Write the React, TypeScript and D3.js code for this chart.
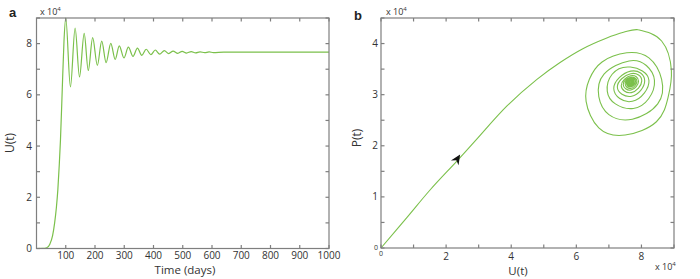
import React, { useEffect, useRef } from "react";
import * as d3 from "d3";

// panel a: U(t) time series (values in units of 1e4)
const tsTime = [0, 20, 35, 46, 55, 62, 68, 73, 78, 82, 88, 94, 100, 116, 132, 147, 163, 177, 192, 208, 223, 238, 254, 269, 283, 299, 314, 330, 345, 360, 375, 391, 406, 421, 437, 452, 467, 483, 498, 513, 529, 544, 559, 575, 590, 605, 640, 1000];
const tsU = [0, 0.005, 0.03, 0.18, 0.5, 1.0, 1.6, 2.3, 3.3, 4.25, 6.2, 8.1, 9.0, 6.31, 8.61, 6.7, 8.4, 6.95, 8.23, 7.15, 8.1, 7.26, 8.01, 7.38, 7.91, 7.44, 7.86, 7.5, 7.82, 7.54, 7.78, 7.57, 7.75, 7.59, 7.73, 7.61, 7.71, 7.62, 7.7, 7.63, 7.69, 7.64, 7.68, 7.645, 7.675, 7.65, 7.665, 7.665];

const timeTicks = [100, 200, 300, 400, 500, 600, 700, 800, 900, 1000];
const uTicksA = [0, 1, 2, 3, 4, 5, 6, 7, 8, 9];
const uLabelsA = [0, 2, 4, 6, 8];

// panel b: phase trajectory [U, P] (units of 1e4)
// approach from the origin to the top of the first turn
const approachPath: [number, number][] = [
  [0, 0], [0.8, 0.6], [1.5, 1.13], [2.33, 1.7], [2.9, 2.1], [3.87, 2.78], [4.79, 3.3], [5.5, 3.63], [6.2, 3.9], [6.9, 4.1], [7.45, 4.22], [7.9, 4.27],
  [8.62, 4.05],
];
// spiral towards the equilibrium
const spiralPath: [number, number][] = [
  [7.9, 4.27],
  [8.62, 4.05], [8.92, 3.47], [8.82, 2.95], [8.46, 2.47], [7.5, 2.21], [6.69, 2.35], [6.3, 2.87], [6.4, 3.3], [6.79, 3.64],
  [7.55, 3.82], [8.23, 3.72], [8.62, 3.3], [8.5, 2.82], [7.72, 2.52], [7.0, 2.61], [6.69, 2.96], [6.85, 3.4],
  [7.62, 3.66], [8.15, 3.57], [8.4, 3.28], [8.22, 2.92], [7.75, 2.73], [7.2, 2.82], [6.95, 3.07], [7.1, 3.4],
  [7.66, 3.54], [8.23, 3.28], [7.72, 2.87], [7.15, 3.12],
  [7.67, 3.46], [8.1, 3.27], [7.7, 2.97], [7.26, 3.15],
  [7.67, 3.41], [8.01, 3.27], [7.69, 3.04], [7.38, 3.18],
  [7.67, 3.37], [7.91, 3.265], [7.68, 3.09], [7.44, 3.2],
  [7.665, 3.34], [7.86, 3.263], [7.675, 3.12], [7.5, 3.215],
  [7.665, 3.32], [7.82, 3.261], [7.672, 3.15], [7.54, 3.225],
  [7.664, 3.305], [7.78, 3.26], [7.67, 3.17], [7.57, 3.232],
  [7.664, 3.295], [7.75, 3.259], [7.668, 3.188], [7.59, 3.237],
  [7.663, 3.287], [7.73, 3.258], [7.666, 3.2], [7.61, 3.24],
  [7.663, 3.28], [7.71, 3.257], [7.665, 3.212], [7.62, 3.243],
  [7.663, 3.275], [7.7, 3.256], [7.664, 3.222], [7.63, 3.246],
  [7.663, 3.27], [7.69, 3.255], [7.664, 3.232], [7.64, 3.248],
  [7.663, 3.266], [7.68, 3.254], [7.664, 3.24], [7.65, 3.25],
  [7.663, 3.252],
];
const arrowBase: [number, number] = [2.22, 1.62];
const arrowTip: [number, number] = [2.43, 1.83];

const uTicksB = [0, 1, 2, 3, 4, 5, 6, 7, 8, 9];
const uLabelsB = [2, 4, 6, 8];
const pTicksB = [0, 0.5, 1, 1.5, 2, 2.5, 3, 3.5, 4, 4.5];
const pLabelsB = [1, 2, 3, 4];

const GREEN = "#7bc04b";
const AXIS = "#7f7f7f";
const TXT = "#333";
const FONT = "'Open Sans', sans-serif";

const App: React.FC = () => {
  const svgRef = useRef<SVGSVGElement | null>(null);

  useEffect(() => {
    const svg = d3.select(svgRef.current);
    svg.selectAll("*").remove();

    svg.append("rect").attr("width", 700).attr("height", 279).attr("fill", "white");

    const tick = 3.5;

    // helper: box with inward ticks on all four sides
    const drawBox = (
      x: d3.ScaleLinear<number, number>,
      y: d3.ScaleLinear<number, number>,
      xt: number[],
      yt: number[]
    ) => {
      const [x0, x1] = x.range();
      const [y0, y1] = y.range();
      const g = svg.append("g").attr("stroke", AXIS).attr("stroke-width", 1.2).attr("fill", "none");
      xt.forEach((v) => {
        g.append("line").attr("x1", x(v)).attr("x2", x(v)).attr("y1", y0).attr("y2", y0 - tick);
        g.append("line").attr("x1", x(v)).attr("x2", x(v)).attr("y1", y1).attr("y2", y1 + tick);
      });
      yt.forEach((v) => {
        g.append("line").attr("x1", x0).attr("x2", x0 + tick).attr("y1", y(v)).attr("y2", y(v));
        g.append("line").attr("x1", x1).attr("x2", x1 - tick).attr("y1", y(v)).attr("y2", y(v));
      });
      g.append("rect")
        .attr("x", x0)
        .attr("y", y1)
        .attr("width", x1 - x0)
        .attr("height", y0 - y1);
    };

    const exp = (x: number, y: number) => {
      const t = svg
        .append("text")
        .attr("x", x)
        .attr("y", y)
        .attr("fill", TXT)
        .style("font-family", FONT)
        .style("font-size", "9px");
      t.append("tspan").text("x 10");
      t.append("tspan").attr("dy", -4).style("font-size", "6px").text("4");
    };

    // ---------- panel a ----------
    const xa = d3.scaleLinear().domain([0, 1000]).range([36.5, 329]);
    const ya = d3.scaleLinear().domain([0, 9]).range([248.5, 18]);

    const lineA = d3
      .line<number>()
      .x((_d, i) => xa(tsTime[i]))
      .y((d) => ya(d))
      .curve(d3.curveMonotoneX);

    svg
      .append("path")
      .attr("d", lineA(tsU))
      .attr("fill", "none")
      .attr("stroke", GREEN)
      .attr("stroke-width", 1.2);

    drawBox(xa, ya, timeTicks, uTicksA);

    svg
      .append("g")
      .selectAll("text")
      .data(timeTicks)
      .enter()
      .append("text")
      .attr("x", (d) => xa(d))
      .attr("y", 259)
      .attr("text-anchor", "middle")
      .attr("fill", TXT)
      .style("font-family", FONT)
      .style("font-size", "10px")
      .text((d) => d);

    svg
      .append("g")
      .selectAll("text")
      .data(uLabelsA)
      .enter()
      .append("text")
      .attr("x", 32)
      .attr("y", (d) => ya(d) + 3.5)
      .attr("text-anchor", "end")
      .attr("fill", TXT)
      .style("font-family", FONT)
      .style("font-size", "10px")
      .text((d) => d);

    svg
      .append("text")
      .attr("x", 185)
      .attr("y", 274)
      .attr("text-anchor", "middle")
      .attr("fill", TXT)
      .style("font-family", FONT)
      .style("font-size", "11.5px")
      .text("Time (days)");

    svg
      .append("text")
      .attr("transform", "translate(14,143) rotate(-90)")
      .attr("text-anchor", "middle")
      .attr("fill", TXT)
      .style("font-family", FONT)
      .style("font-size", "12px")
      .text("U(t)");

    svg
      .append("text")
      .attr("x", 9)
      .attr("y", 17)
      .attr("fill", "#222")
      .style("font-family", "'Liberation Sans', Arial, sans-serif")
      .style("font-size", "13px")
      .style("font-weight", 700)
      .text("a");

    exp(40, 15);

    // ---------- panel b ----------
    const xb = d3.scaleLinear().domain([0, 9]).range([381, 674]);
    const yb = d3.scaleLinear().domain([0, 4.5]).range([248, 18]);

    // the approach is clipped at the top of the first turn; the spiral takes over there
    const approachLine = d3
      .line<[number, number]>()
      .x((d) => xb(d[0]))
      .y((d) => yb(d[1]))
      .curve(d3.curveCatmullRom.alpha(0.5));

    const spiralLine = d3
      .line<[number, number]>()
      .x((d) => xb(d[0]))
      .y((d) => yb(d[1]))
      .curve(d3.curveNatural);

    svg
      .append("clipPath")
      .attr("id", "approach-clip")
      .append("rect")
      .attr("x", 0)
      .attr("y", 0)
      .attr("width", xb(approachPath[approachPath.length - 2][0]))
      .attr("height", 279);

    svg
      .append("path")
      .attr("d", approachLine(approachPath))
      .attr("clip-path", "url(#approach-clip)")
      .attr("fill", "none")
      .attr("stroke", GREEN)
      .attr("stroke-width", 1.1);

    svg
      .append("path")
      .attr("d", spiralLine(spiralPath))
      .attr("fill", "none")
      .attr("stroke", GREEN)
      .attr("stroke-width", 1.1);

    // arrowhead
    const tx = xb(arrowTip[0]);
    const ty = yb(arrowTip[1]);
    const ang = Math.atan2(ty - yb(arrowBase[1]), tx - xb(arrowBase[0]));
    const L = 10;
    const W = 4.5;
    const pt = (along: number, side: number) => {
      const ax = tx + along * Math.cos(ang) - side * Math.sin(ang);
      const ay = ty + along * Math.sin(ang) + side * Math.cos(ang);
      return `${ax},${ay}`;
    };
    svg
      .append("polygon")
      .attr("points", [pt(0, 0), pt(-L, W), pt(-L + 3, 0), pt(-L, -W)].join(" "))
      .attr("fill", "#111");

    drawBox(xb, yb, uTicksB, pTicksB);

    svg
      .append("g")
      .selectAll("text")
      .data(uLabelsB)
      .enter()
      .append("text")
      .attr("x", (d) => xb(d))
      .attr("y", 259.5)
      .attr("text-anchor", "middle")
      .attr("fill", TXT)
      .style("font-family", FONT)
      .style("font-size", "10px")
      .text((d) => d);

    svg
      .append("g")
      .selectAll("text")
      .data(pLabelsB)
      .enter()
      .append("text")
      .attr("x", 378)
      .attr("y", (d) => yb(d) + 3.5)
      .attr("text-anchor", "end")
      .attr("fill", TXT)
      .style("font-family", FONT)
      .style("font-size", "10px")
      .text((d) => d);

    // small zero labels
    svg
      .append("text")
      .attr("x", xb(0))
      .attr("y", 256)
      .attr("text-anchor", "middle")
      .attr("fill", TXT)
      .style("font-family", FONT)
      .style("font-size", "7px")
      .text("0");
    svg
      .append("text")
      .attr("x", 378)
      .attr("y", yb(0) + 2)
      .attr("text-anchor", "end")
      .attr("fill", TXT)
      .style("font-family", FONT)
      .style("font-size", "7px")
      .text("0");

    svg
      .append("text")
      .attr("x", 518)
      .attr("y", 275)
      .attr("text-anchor", "middle")
      .attr("fill", TXT)
      .style("font-family", FONT)
      .style("font-size", "11.5px")
      .text("U(t)");

    svg
      .append("text")
      .attr("transform", "translate(361,138) rotate(-90)")
      .attr("text-anchor", "middle")
      .attr("fill", TXT)
      .style("font-family", FONT)
      .style("font-size", "12px")
      .text("P(t)");

    svg
      .append("text")
      .attr("x", 354)
      .attr("y", 20)
      .attr("fill", "#222")
      .style("font-family", "'Liberation Sans', Arial, sans-serif")
      .style("font-size", "13px")
      .style("font-weight", 700)
      .text("b");

    exp(386, 15);
    exp(655, 270);
  }, []);

  return (
    <svg
      ref={svgRef}
      width={700}
      height={279}
      style={{ position: "absolute", left: 0, top: 0 }}
    ></svg>
  );
};

export default App;
